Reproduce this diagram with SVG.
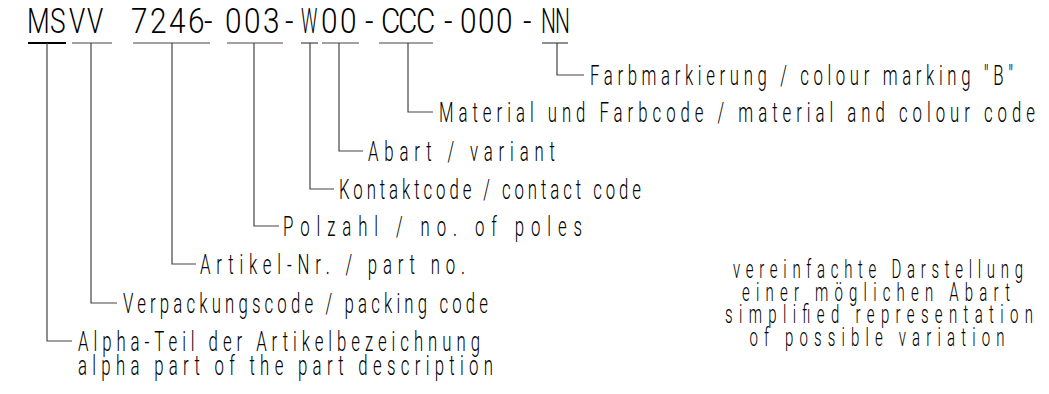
<svg xmlns="http://www.w3.org/2000/svg" width="1049" height="394" viewBox="0 0 1049 394">
<style>
text { font-family: Roboto, "Open Sans", "Liberation Sans", sans-serif; font-weight: 300; fill: #000; }
.code { font-size: 35px; }
.lbl { font-size: 28px; }
.note { font-size: 25px; text-anchor: middle; }
.ul { stroke: #444; stroke-width: 1.2; fill: none; }
.ul-strong { stroke: #000; stroke-width: 2; fill: none; }
.con { stroke: #444; stroke-width: 1.2; fill: none; }
</style>
<rect width="1049" height="394" fill="#fff"/>
<g id="code">
  <text class="code" transform="scale(0.75,1)" y="33" x="36 66.67 92 116">MSVV</text>
  <text class="code" transform="scale(0.85,1)" y="33" x="154.12 176.47 198.82 221.18 240 264.71 287.06 309.41 335.29">7246-003-</text>
  <text class="code" transform="scale(0.52,1)" y="33" x="578.85">W</text>
  <text class="code" transform="scale(0.85,1)" y="33" x="377.65 400 429.41 448.24 468.24 489.41 522.35 541.18 562.35 583.53 615.29">00-CCC-000-</text>
  <text class="code" transform="scale(0.6,1)" y="33" x="901.67 925">NN</text>
  <line class="ul-strong" x1="28" y1="43" x2="66" y2="43"/>
  <line class="ul" x1="72" y1="43" x2="112" y2="43"/>
  <line class="ul" x1="133" y1="43" x2="210" y2="43"/>
  <line class="ul" x1="227" y1="43" x2="283" y2="43"/>
  <line class="ul" x1="301" y1="43" x2="318" y2="43"/>
  <line class="ul" x1="322" y1="43" x2="359" y2="43"/>
  <line class="ul" x1="379" y1="43" x2="433" y2="43"/>
  <line class="ul" x1="542" y1="43" x2="568" y2="43"/>
</g>
<g id="connectors">
  <path class="con" d="M557 43V75H584"/>
  <path class="con" d="M408 43V112H433"/>
  <path class="con" d="M339 43V151H363"/>
  <path class="con" d="M310 43V189H334"/>
  <path class="con" d="M254 43V226H279"/>
  <path class="con" d="M172 43V264H196"/>
  <path class="con" d="M91 43V303H117"/>
  <path class="con" d="M47 43V341H72"/>
</g>
<g id="label-farbmarkierung">
  <text class="lbl" transform="scale(0.6,1)" x="983.33" y="85" textLength="705" lengthAdjust="spacing">Farbmarkierung / colour marking "B"</text>
</g>
<g id="label-material">
  <text class="lbl" transform="scale(0.6,1)" x="731.67" y="122" textLength="993.33" lengthAdjust="spacing">Material und Farbcode / material and colour code</text>
</g>
<g id="label-abart">
  <text class="lbl" transform="scale(0.6,1)" x="613.33" y="161" textLength="311.67" lengthAdjust="spacing">Abart / variant</text>
</g>
<g id="label-kontaktcode">
  <text class="lbl" transform="scale(0.6,1)" x="565" y="199" textLength="503.33" lengthAdjust="spacing">Kontaktcode / contact code</text>
</g>
<g id="label-polzahl">
  <text class="lbl" transform="scale(0.6,1)" x="471.67" y="236" textLength="498.33" lengthAdjust="spacing">Polzahl / no. of poles</text>
</g>
<g id="label-artikel">
  <text class="lbl" transform="scale(0.6,1)" x="333.33" y="274" textLength="441.67" lengthAdjust="spacing">Artikel-Nr. / part no.</text>
</g>
<g id="label-verpackung">
  <text class="lbl" transform="scale(0.6,1)" x="205" y="313" textLength="608.33" lengthAdjust="spacing">Verpackungscode / packing code</text>
</g>
<g id="label-alpha">
  <text class="lbl" transform="scale(0.6,1)" x="130" y="351" textLength="670" lengthAdjust="spacing">Alpha-Teil der Artikelbezeichnung</text>
  <text class="lbl" transform="scale(0.6,1)" x="130" y="375" textLength="691.67" lengthAdjust="spacing">alpha part of the part description</text>
</g>
<g id="note">
  <text class="note" transform="scale(0.6,1)" x="1463.33" y="278" textLength="483.33" lengthAdjust="spacing">vereinfachte Darstellung</text>
  <text class="note" transform="scale(0.6,1)" x="1460" y="301" textLength="446.67" lengthAdjust="spacing">einer möglichen Abart</text>
  <text class="note" transform="scale(0.6,1)" x="1465" y="323" textLength="513.33" lengthAdjust="spacing">simplified representation</text>
  <text class="note" transform="scale(0.6,1)" x="1461.67" y="346" textLength="425" lengthAdjust="spacing">of possible variation</text>
</g>
</svg>
